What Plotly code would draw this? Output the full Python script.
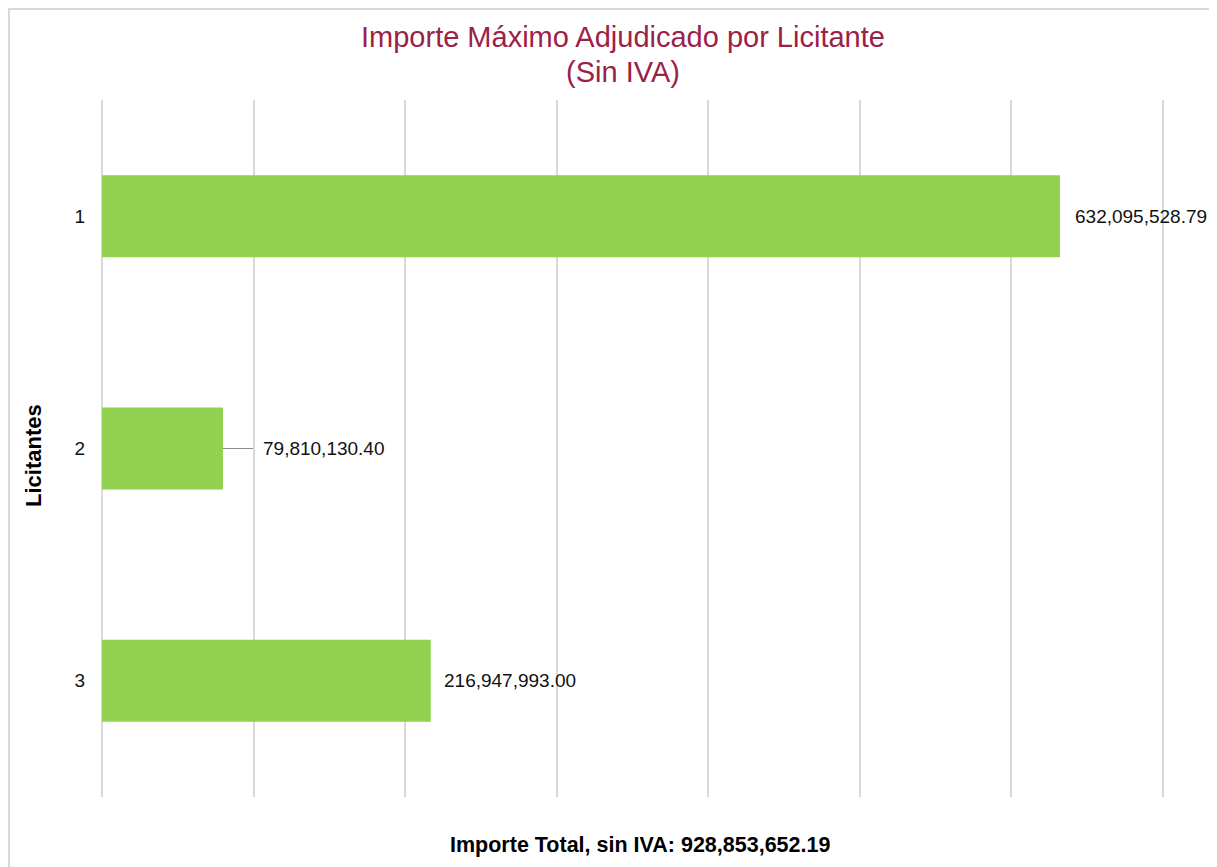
import plotly.graph_objects as go

# data
licitantes = ['1', '2', '3']
importes = [632095528.79, 79810130.40, 216947993.00]
total = 928853652.19

TITLE_1 = 'Importe Máximo Adjudicado por Licitante'
TITLE_2 = '(Sin IVA)'
Y_TITLE = 'Licitantes'
X_TITLE = 'Importe Total, sin IVA: %s' % format(total, ',.2f')

BAR_COLOR = '#92D050'
TITLE_COLOR = '#9B2247'
GRID_COLOR = '#D9D9D9'
FONT = 'Liberation Sans, Arial, sans-serif'

# page has an 8px body margin, so the figure is 8px smaller than the window
OFF = 8
W, H = 1217 - OFF, 867 - OFF
M = dict(l=102 - OFF, r=53, t=100 - OFF, b=70)
pw = W - M['l'] - M['r']
ph = H - M['t'] - M['b']


def px_x(x):
    # page pixel -> paper x
    return (x - OFF - M['l']) / pw


def px_y(y):
    # page pixel -> paper y
    return (H - M['b'] - (y - OFF)) / ph


# label offsets (px) -- bar 2 label is pulled out with a leader line
label_shift = {'1': 13, '2': 30, '3': 11}
leader = {'2': True}

fig = go.Figure(go.Bar(
    x=importes,
    y=licitantes,
    orientation='h',
    marker=dict(color=BAR_COLOR, line=dict(width=0)),
    hoverinfo='skip',
))

for i, (cat, val) in enumerate(zip(licitantes, importes)):
    txt = format(val, ',.2f')
    if leader.get(cat):
        fig.add_annotation(
            x=val, y=i, text=txt,
            showarrow=True, arrowhead=0, arrowwidth=1.2, arrowcolor='#8c8c8c',
            ax=label_shift[cat], ay=0, axref='pixel', ayref='pixel',
            xanchor='left', yanchor='middle', standoff=0, startstandoff=0,
            borderpad=9,
            font=dict(size=19, color='#111111', family=FONT),
        )
    else:
        fig.add_annotation(
            x=val, y=i, text=txt, showarrow=False,
            xanchor='left', yanchor='middle', xshift=label_shift[cat],
            font=dict(size=19, color='#111111', family=FONT),
        )

# outer chart border (bottom runs off the page)
fig.add_shape(
    type='rect', xref='paper', yref='paper',
    x0=px_x(OFF + 1), x1=px_x(1215.5),
    y0=px_y(900), y1=px_y(OFF + 1),
    line=dict(color=GRID_COLOR, width=2), fillcolor='rgba(0,0,0,0)',
    layer='below',
)

fig.add_annotation(
    x=px_x(623), y=px_y(37), xref='paper', yref='paper',
    xanchor='center', yanchor='middle', text=TITLE_1, showarrow=False,
    font=dict(size=29, color=TITLE_COLOR, family=FONT),
)
fig.add_annotation(
    x=px_x(623), y=px_y(72), xref='paper', yref='paper',
    xanchor='center', yanchor='middle', text=TITLE_2, showarrow=False,
    font=dict(size=29, color=TITLE_COLOR, family=FONT),
)
fig.add_annotation(
    x=px_x(33), y=px_y(456), xref='paper', yref='paper',
    xanchor='center', yanchor='middle',
    text='<b>%s</b>' % Y_TITLE, textangle=-90, showarrow=False,
    font=dict(size=22, color='#000000', family=FONT),
)
fig.add_annotation(
    x=px_x(640), y=px_y(845), xref='paper', yref='paper',
    xanchor='center', yanchor='middle',
    text='<b>%s</b>' % X_TITLE, showarrow=False,
    font=dict(size=21.5, color='#000000', family=FONT),
)

fig.update_layout(
    width=W, height=H,
    margin=M,
    paper_bgcolor='white',
    plot_bgcolor='white',
    font=dict(family=FONT, size=19, color='#111111'),
    bargap=0.647,
    showlegend=False,
    xaxis=dict(
        range=[0, 700.8e6], dtick=100e6, showticklabels=False,
        showgrid=True, gridcolor=GRID_COLOR, gridwidth=2,
        zeroline=True, zerolinecolor=GRID_COLOR, zerolinewidth=2,
        showline=False, ticks='', fixedrange=True,
    ),
    yaxis=dict(
        type='category', autorange='reversed',
        showgrid=False, zeroline=False, showline=False,
        ticks='', ticklabelstandoff=16,
        tickfont=dict(size=19, color='#111111', family=FONT),
        fixedrange=True,
    ),
)

fig.write_html('out.html')
